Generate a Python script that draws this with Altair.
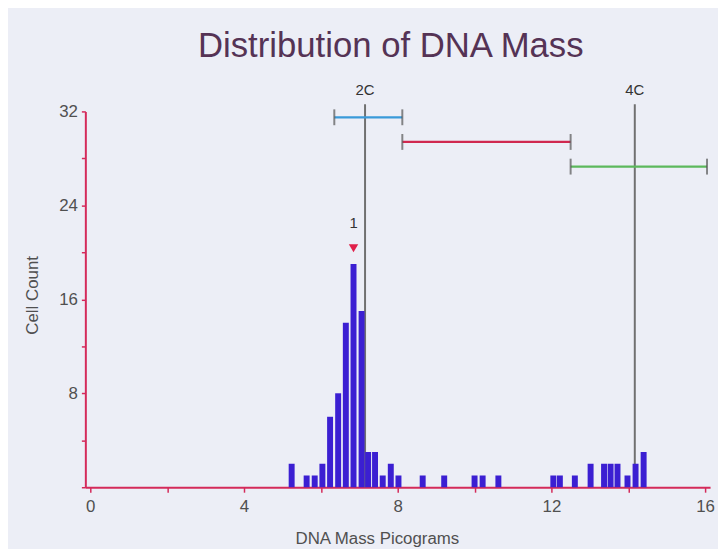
import altair as alt
import pandas as pd

# Histogram bins (DNA mass in picograms) and cell counts
bin_centers = [5.24, 5.63, 5.84, 6.04, 6.24, 6.45, 6.65, 6.85, 7.06, 7.23, 7.41, 7.61, 7.82, 8.02,
               8.65, 9.21, 10.0, 10.21, 10.62, 12.05, 12.22, 12.61, 13.02, 13.37, 13.54, 13.72,
               13.98, 14.19, 14.40]
counts = [2, 1, 1, 2, 6, 8, 14, 19, 15, 3, 3, 1, 2, 1,
          1, 1, 1, 1, 1, 1, 1, 1, 2, 2, 2, 2,
          1, 2, 3]

# Ploidy reference lines
ref_names = ["2C", "4C"]
ref_x = [7.15, 14.17]
ref_top = [32.6, 32.6]
ref_label_y = [33.8, 33.8]

# Gating ranges
range_start = [6.35, 8.12, 12.5]
range_end = [8.12, 12.5, 16.05]
range_y = [31.5, 29.4, 27.3]
range_names = ["A", "B", "C"]
range_colors = ["#3a9ad9", "#d0284f", "#5cb85c"]

# Peak marker
marker_x = [6.85]
marker_y = [20.35]
marker_label_y = [22.5]
marker_text = ["1"]

AXIS_RED = "#d42a5a"
LABEL_GRAY = "#505050"
FONT = "Liberation Sans"

bars_df = pd.DataFrame({"mass": bin_centers, "count": counts})
ref_df = pd.DataFrame({"name": ref_names, "x": ref_x, "top": ref_top, "ly": ref_label_y, "zero": [0, 0]})
rng_df = pd.DataFrame({"name": range_names, "x1": range_start, "x2": range_end, "y": range_y})
caps_df = pd.DataFrame({"x": range_start + range_end, "y": range_y + range_y})
mk_df = pd.DataFrame({"x": marker_x, "y": marker_y, "ly": marker_label_y, "t": marker_text})

xscale = alt.Scale(domain=[0, 16], nice=False, zero=True)
yscale = alt.Scale(domain=[0, 32], nice=False)

xaxis = alt.Axis(
    values=list(range(0, 17, 2)),
    labelExpr="datum.value % 4 == 0 ? datum.label : ''",
    domainColor=AXIS_RED, domainWidth=2, tickColor=AXIS_RED, tickSize=5, tickWidth=1.5,
    grid=False, labelFontSize=17, labelColor=LABEL_GRAY, labelPadding=6, labelFont=FONT,
    title="DNA Mass Picograms", titleFontSize=17, titleFontWeight="normal", titleColor=LABEL_GRAY,
    titleFont=FONT, titleX=294, titleY=57, titleBaseline="alphabetic",
)
yaxis = alt.Axis(
    values=list(range(0, 33, 4)),
    labelExpr="datum.value % 8 == 0 && datum.value > 0 ? datum.label : ''",
    domainColor=AXIS_RED, domainWidth=2, tickColor=AXIS_RED, tickSize=4, tickWidth=1.5,
    grid=False, labelFontSize=17, labelColor=LABEL_GRAY, labelPadding=4, labelFont=FONT,
    title="Cell Count", titleFontSize=17, titleFontWeight="normal", titleColor=LABEL_GRAY,
    titleFont=FONT, titleX=-53, titleY=185, titleAngle=270, titleBaseline="middle",
)

ref_lines = alt.Chart(ref_df).mark_rule(color="#707070", strokeWidth=2, clip=False).encode(
    x=alt.X("x:Q", scale=xscale, axis=xaxis),
    y=alt.Y("zero:Q", scale=yscale, axis=yaxis),
    y2="top:Q",
)
ref_labels = alt.Chart(ref_df).mark_text(fontSize=15, color="#333333", font=FONT, baseline="middle").encode(
    x="x:Q", y="ly:Q", text="name:N"
)

bars = alt.Chart(bars_df).mark_bar(size=6, color="#3b1fd2").encode(
    x="mass:Q", y="count:Q"
)

ranges = alt.Chart(rng_df).mark_rule(strokeWidth=2.2).encode(
    x="x1:Q", x2="x2:Q", y="y:Q",
    color=alt.Color("name:N", scale=alt.Scale(domain=range_names, range=range_colors), legend=None),
)
caps = alt.Chart(caps_df).mark_tick(orient="vertical", size=16, thickness=2, color="#555555").encode(
    x="x:Q", y="y:Q"
)

marker = alt.Chart(mk_df).mark_point(shape="triangle-down", filled=True, size=90, color="#e0204a", opacity=1).encode(
    x="x:Q", y="y:Q"
)
marker_lbl = alt.Chart(mk_df).mark_text(fontSize=15, color="#333333", font=FONT, baseline="middle").encode(
    x="x:Q", y="ly:Q", text="t:N"
)

chart = alt.layer(ref_lines, bars, ranges, caps, ref_labels, marker, marker_lbl).properties(
    width=630,
    height=379,
    padding={"left": 78, "top": 102, "right": 8, "bottom": 60},
    autosize=alt.AutoSizeParams(type="none"),
    background="#eceef6",
    title=alt.Title("Distribution of DNA Mass", fontSize=35, font=FONT, fontWeight="normal",
                    color="#553355", anchor="middle", offset=20, dx=-7),
).configure_view(stroke=None)

chart.save("out.html", embed_options={"renderer": "svg", "actions": False})
